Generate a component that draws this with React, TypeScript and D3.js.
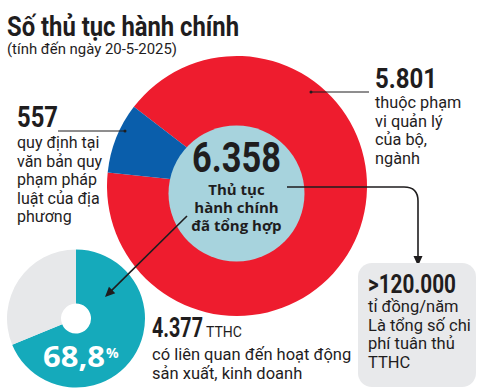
import React from "react";
import * as d3 from "d3";

// Procedures broken down by who issues them
const scopeLabels = ["thuộc phạm vi quản lý của bộ, ngành", "quy định tại văn bản quy phạm pháp luật của địa phương"];
const scopeValues = [5801, 557];
const scopeColors = ["#ee1c2e", "#0a5eab"];
const totalProcedures = "6.358";

// Share of procedures tied to production and business
const businessShares = [68.8, 31.2];
const businessColors = ["#15aabb", "#e7e8ea"];
const businessCount = "4.377";
const businessPct = "68,8";

const costValue = ">120.000";

const title = "Số thủ tục hành chính";
const subtitle = "(tính đến ngày 20-5-2025)";
const ministryLines = ["thuộc phạm", "vi quản lý", "của bộ,", "ngành"];
const localLines = ["quy định tại", "văn bản quy", "phạm pháp", "luật của địa", "phương"];
const centerLines = ["Thủ tục", "hành chính", "đã tổng hợp"];
const businessLines = ["có liên quan đến hoạt động", "sản xuất, kinh doanh"];
const costLines = ["tỉ đồng/năm", "Là tổng số chi", "phí tuân thủ", "TTHC"];

const W = 480;
const H = 390;
const INK = "#1f1d1e";
const BODY = "Roboto, 'Liberation Sans', sans-serif";
const HEAVY = "Roboto, 'Liberation Sans', sans-serif";

export default function App() {
  // main pie
  const cx = 237, cy = 186, R = 130;
  const start = (307.5 * Math.PI) / 180;
  const pie = d3.pie<number>().sort(null).value((d) => d).startAngle(start).endAngle(start + 2 * Math.PI);
  const arc = d3.arc<d3.PieArcDatum<number>>().innerRadius(0).outerRadius(R);
  const slices = pie(scopeValues);

  // small donut
  const sx = 76, sy = 318.5;
  const pie2 = d3.pie<number>().sort(null).value((d) => d);
  const arc2 = d3.arc<d3.PieArcDatum<number>>().innerRadius(15).outerRadius(69);
  const slices2 = pie2(businessShares);

  // arrow helper
  const head = (tx: number, ty: number, ux: number, uy: number, len = 10, hw = 4.5) => {
    const bx = tx - ux * len, by = ty - uy * len;
    const px = -uy, py = ux;
    return `M${tx},${ty}L${bx + px * hw},${by + py * hw}L${bx - px * hw},${by - py * hw}Z`;
  };
  const dx = 105 - 187, dy = 297 - 216;
  const dl = Math.hypot(dx, dy);
  const ux = dx / dl, uy = dy / dl;

  return (
    <svg width={W} height={H} viewBox={`0 0 ${W} ${H}`} style={{ position: "absolute", left: 0, top: 0, background: "#fff" }}>
      {/* title */}
      <text x={7} y={36} fontFamily={HEAVY} fontWeight={700} fontSize={27.5} fill={INK} textLength={232} lengthAdjust="spacingAndGlyphs">{title}</text>
      <text x={7} y={54} fontFamily={BODY} fontSize={14.5} fill={INK} textLength={170} lengthAdjust="spacingAndGlyphs">{subtitle}</text>

      {/* main pie */}
      <g transform={`translate(${cx},${cy})`}>
        {slices.map((s, i) => (
          <path key={scopeLabels[i]} d={arc(s) || ""} fill={scopeColors[i]} />
        ))}
      </g>
      <circle cx={236.5} cy={193.5} r={68} fill="#a7d3dd" />

      {/* leader: ministries */}
      <line x1={311} y1={92} x2={369} y2={92} stroke={INK} strokeWidth={1} />
      <circle cx={311} cy={92} r={1.5} fill={INK} />
      <text x={375} y={88} fontFamily={HEAVY} fontWeight={700} fontSize={28} fill={INK} textLength={62} lengthAdjust="spacingAndGlyphs">{d3.format(",")(scopeValues[0]).replace(",", ".")}</text>
      {ministryLines.map((t, i) => (
        <text key={t} x={375} y={108 + i * 18.5} fontFamily={BODY} fontSize={16.3} fill={INK}>{t}</text>
      ))}

      {/* leader: local */}
      <line x1={58} y1={131} x2={125} y2={131} stroke={INK} strokeWidth={1} />
      <circle cx={125} cy={131} r={1.5} fill={INK} />
      <text x={17} y={127} fontFamily={HEAVY} fontWeight={700} fontSize={30} fill={INK} textLength={41} lengthAdjust="spacingAndGlyphs">{String(scopeValues[1])}</text>
      {localLines.map((t, i) => (
        <text key={t} x={17} y={148 + i * 18.5} fontFamily={BODY} fontSize={16} fill={INK}>{t}</text>
      ))}

      {/* center */}
      <text x={192} y={172} fontFamily={HEAVY} fontWeight={700} fontSize={42} fill={INK} textLength={89} lengthAdjust="spacingAndGlyphs">{totalProcedures}</text>
      {centerLines.map((t, i) => (
        <text key={t} x={236.5} y={195 + i * 18} textAnchor="middle" fontFamily="'Open Sans', sans-serif" fontWeight={700} fontSize={15} fill={INK}>{t}</text>
      ))}

      {/* arrow to cost box */}
      <path d="M287,187H404Q418,187 418,201V257" fill="none" stroke={INK} strokeWidth={1.6} />
      <path d={head(418, 266, 0, 1)} fill={INK} />

      {/* cost box */}
      <rect x={358} y={263} width={118} height={124} rx={14} fill="#e8e9eb" />
      <text x={368} y={293} fontFamily={HEAVY} fontWeight={700} fontSize={26} fill={INK} textLength={88} lengthAdjust="spacingAndGlyphs">{costValue}</text>
      {costLines.map((t, i) => (
        <text key={t} x={368} y={312 + i * 18.7} fontFamily={BODY} fontSize={16.5} fill={INK}>{t}</text>
      ))}

      {/* small donut */}
      <g transform={`translate(${sx},${sy})`}>
        {slices2.map((s, i) => (
          <path key={i} d={arc2(s) || ""} fill={businessColors[i]} />
        ))}
      </g>
      <text x={43} y={367} fontFamily="'Open Sans', sans-serif" fontWeight={700} fontSize={28} fill="#fff" textLength={62} lengthAdjust="spacingAndGlyphs">{businessPct}</text>
      <text x={106} y={358} fontFamily="'Open Sans', sans-serif" fontWeight={700} fontSize={14} fill="#fff">%</text>

      {/* arrow to small donut */}
      <line x1={187} y1={216} x2={105 - ux * 8} y2={297 - uy * 8} stroke={INK} strokeWidth={1.6} />
      <path d={head(105, 297, ux, uy)} fill={INK} />

      {/* business count */}
      <text x={152} y={337} fontFamily={HEAVY} fontWeight={700} fontSize={28} fill={INK} textLength={51} lengthAdjust="spacingAndGlyphs">{businessCount}</text>
      <text x={206} y={337} fontFamily={BODY} fontSize={14} fill={INK}>TTHC</text>
      {businessLines.map((t, i) => (
        <text key={t} x={152} y={360 + i * 18.5} fontFamily={BODY} fontSize={16.5} fill={INK}>{t}</text>
      ))}
    </svg>
  );
}
